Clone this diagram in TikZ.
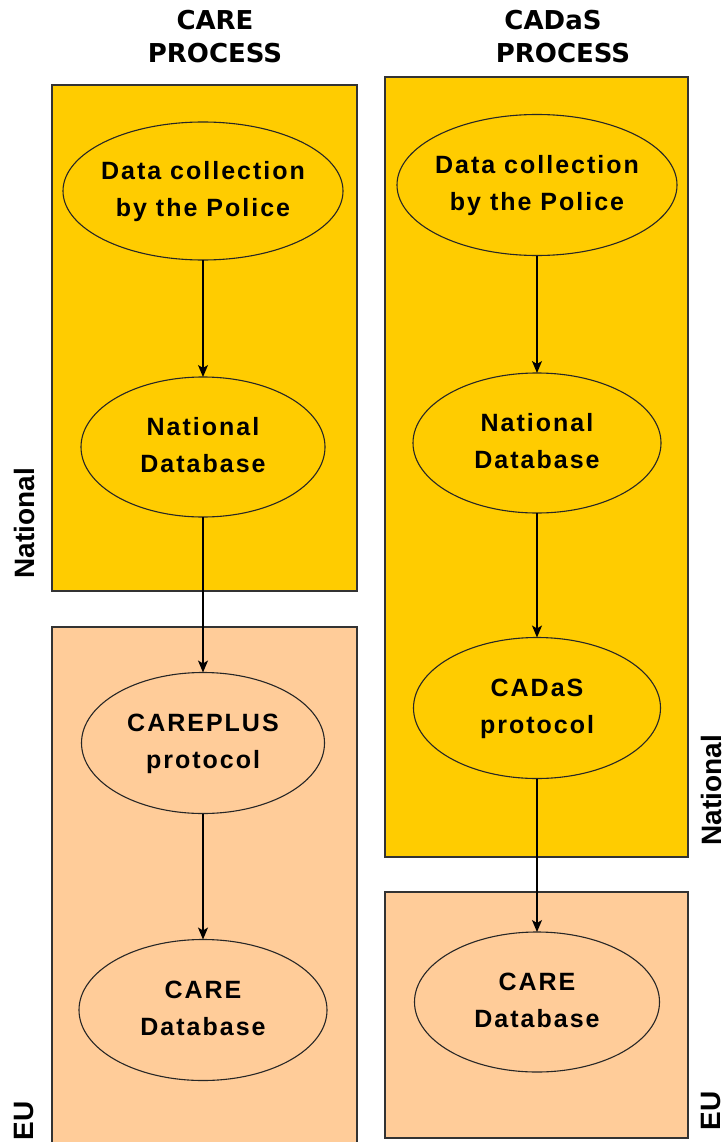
\documentclass[tikz,border=0pt]{standalone}
\usepackage{fontspec}
\usetikzlibrary{shapes.geometric,arrows.meta}
\newfontfamily\titlefont{DejaVu Sans}
\newfontfamily\efont{Liberation Sans}[LetterSpace=8]
\newfontfamily\sidefont{Liberation Sans}
\definecolor{natyellow}{HTML}{FFCC00}
\definecolor{eupeach}{HTML}{FFCC99}
\newcommand{\etxt}[1]{\makebox[0pt]{\begin{tabular}{@{}c@{}}#1\end{tabular}}}
\begin{document}
\begin{tikzpicture}[x=1pt,y=-1pt,
  boxnat/.style={fill=natyellow,draw=black!80,line width=1.2pt},
  boxeu/.style={fill=eupeach,draw=black!80,line width=1.2pt},
  ell/.style={ellipse,draw=black!85,line width=1.1pt,inner sep=0pt,outer sep=0pt,
    font=\efont\bfseries\fontsize{25}{37}\selectfont},
  ellnat/.style={ell,fill=natyellow},
  elleu/.style={ell,fill=eupeach},
  ttl/.style={align=center,inner sep=0pt,font=\titlefont\bfseries\fontsize{26}{33}\selectfont},
  side/.style={rotate=90,inner sep=0pt,font=\sidefont\bfseries\fontsize{28}{30}\selectfont},
  arr/.style={-{Stealth[length=12pt,width=10pt,inset=3pt]},line width=1.3pt,draw=black}]
\useasboundingbox (0,0) rectangle (726,1142);
\fill[white] (0,0) rectangle (726,1142);
% boxes
\draw[boxnat] (52,85) rectangle (357,591);
\draw[boxeu] (52,627) rectangle (357,1145);
\draw[boxnat] (385,77) rectangle (688,857);
\draw[boxeu] (385,892) rectangle (688,1138);
% titles
\node[ttl] (t1) at (215,36.5) {CARE\\PROCESS};
\node[ttl] (t2) at (563,36.5) {CADaS\hspace*{20pt}\\PROCESS};
% side labels
\node[side] (s1) at (24,523) {National};
\node[side] (s2) at (24,1121) {EU};
\node[side] (s3) at (711,790) {National};
\node[side] (s4) at (711,1111) {EU};
% left column
\node[ellnat,minimum width=280pt,minimum height=138pt] (dc1) at (203,191) {\etxt{Data collection\\by the Police}};
\node[ellnat,minimum width=244pt,minimum height=140pt] (nd1) at (203,447) {\etxt{National\\Database}};
\node[elleu,minimum width=243pt,minimum height=141pt] (cp) at (203,743) {\etxt{CAREPLUS\\protocol}};
\node[elleu,minimum width=248pt,minimum height=141pt] (cdb1) at (203,1010) {\etxt{CARE\\Database}};
% right column
\node[ellnat,minimum width=280pt,minimum height=141pt] (dc2) at (537,185) {\etxt{Data collection\\by the Police}};
\node[ellnat,minimum width=248pt,minimum height=140pt] (nd2) at (537,443) {\etxt{National\\Database}};
\node[ellnat,minimum width=247pt,minimum height=141pt] (cad) at (537,708) {\etxt{CADaS\\protocol}};
\node[elleu,minimum width=245pt,minimum height=140pt] (cdb2) at (537,1002) {\etxt{CARE\\Database}};
% connectors
\draw[arr] (dc1.south) -- (nd1.north);
\draw[arr] (nd1.south) -- (cp.north);
\draw[arr] (cp.south) -- (cdb1.north);
\draw[arr] (dc2.south) -- (nd2.north);
\draw[arr] (nd2.south) -- (cad.north);
\draw[arr] (cad.south) -- (cdb2.north);
\end{tikzpicture}
\end{document}
